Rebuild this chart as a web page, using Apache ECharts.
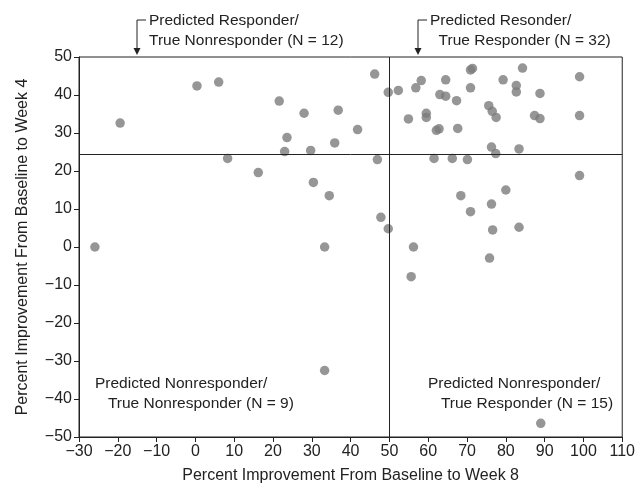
<!DOCTYPE html>
<html>
<head>
<meta charset="utf-8">
<script src="https://cdn.jsdelivr.net/npm/echarts@6/dist/echarts.min.js"></script>
<style>
  html, body { margin: 0; padding: 0; background: #fff; }
  #chart { width: 638px; height: 489px; }
</style>
</head>
<body>
<div id="chart"></div>
<script>
// week 8 improvement (x) and week 4 improvement (y)
const week8 = [
  0.4, 6.0, -19.4, 21.6, 28.0, 36.8, 41.8, 23.6, 23.0, 29.7, 35.9, 46.2,
  49.7, 52.3, 56.8, 58.2, 64.5, 70.9, 70.9, 71.4, 63.0, 64.5, 67.3, 84.3,
  79.3, 82.7, 82.7, 88.8, 99.0, 99.0, 87.4, 88.8, 75.6, 76.5, 77.5, 54.9,
  59.5, 59.5, 62.1, 62.8, 67.6, 76.3, 77.4, 83.4,
  8.3, 16.2, 30.4, 34.5, 33.3, -25.9, 33.3, 46.9, 47.8,
  61.5, 66.2, 70.1, 99.0, 80.0, 68.4, 76.3, 70.9, 49.7, 76.6, 83.4, 56.2,
  75.8, 55.6, 89.0
]
const week4 = [
  42.4, 43.4, 32.6, 38.4, 35.2, 36.0, 30.9, 28.8, 25.1, 25.4, 27.4, 45.5,
  40.7, 41.2, 41.9, 43.8, 44.0, 41.9, 46.6, 47.0, 40.1, 39.7, 38.5, 47.1,
  44.0, 42.5, 40.8, 40.4, 44.8, 34.6, 34.6, 33.8, 37.2, 35.7, 34.1, 33.7,
  35.2, 34.1, 30.7, 31.1, 31.2, 26.3, 24.6, 25.8,
  23.3, 19.6, 17.0, 13.5, 0, 0, -32.5, 23.0, 7.8,
  23.3, 23.3, 23.0, 18.8, 15.0, 13.5, 11.3, 9.3, 4.8, 4.5, 5.2, 0,
  -2.9, -7.8, -46.4
]
const cutX = 50
const cutY = 24.4

const minus = (v) => String(v).replace('-', '\u2212')
const font = 'Liberation Sans, Arial, sans-serif'
const ink = '#222222'

const points = week8.map((x, i) => [x, week4[i]])

const chart = echarts.init(document.getElementById('chart'))

const label = (left, top, lines) => ({
  type: 'text',
  left: left,
  top: top,
  style: {
    text: lines,
    font: '15.5px ' + font,
    fill: ink,
    lineHeight: 20,
  },
})

const arrow = (x, y0, y1) => [
  {
    type: 'polyline',
    shape: { points: [[x + 9, y0], [x, y0], [x, y1 - 6]] },
    style: { stroke: ink, lineWidth: 1, fill: null },
  },
  {
    type: 'polygon',
    shape: { points: [[x - 3.5, y1 - 7], [x + 3.5, y1 - 7], [x, y1]] },
    style: { fill: ink },
  },
]

const option = {
  animation: false,
  grid: {
    left: 79,
    right: 15,
    top: 57,
    bottom: 52,
    show: true,
    borderColor: ink,
    borderWidth: 1,
  },
  xAxis: {
    type: 'value',
    min: -30,
    max: 110,
    interval: 10,
    name: 'Percent Improvement From Baseline to Week 8',
    nameLocation: 'middle',
    nameGap: 31,
    nameTextStyle: { fontFamily: font, fontSize: 16, color: ink },
    splitLine: { show: false },
    axisLine: { onZero: false, lineStyle: { color: ink } },
    axisTick: { show: true, length: 5, lineStyle: { color: ink } },
    axisLabel: {
      fontFamily: font,
      fontSize: 16,
      color: ink,
      margin: 7,
      formatter: minus,
    },
  },
  yAxis: {
    type: 'value',
    min: -50,
    max: 50,
    interval: 10,
    name: 'Percent Improvement From Baseline to Week 4',
    nameLocation: 'middle',
    nameGap: 48,
    nameTextStyle: { fontFamily: font, fontSize: 16, color: ink },
    splitLine: { show: false },
    axisLine: { onZero: false, lineStyle: { color: ink } },
    axisTick: { show: true, length: 5, lineStyle: { color: ink } },
    axisLabel: {
      fontFamily: font,
      fontSize: 16,
      color: ink,
      margin: 7,
      formatter: minus,
    },
  },
  series: [
    {
      type: 'scatter',
      data: points,
      symbolSize: 9.5,
      itemStyle: { color: '#7c7c7c' },
      markLine: {
        silent: true,
        symbol: 'none',
        label: { show: false },
        lineStyle: { color: ink, width: 1, type: 'solid' },
        data: [{ xAxis: cutX }, { yAxis: cutY }],
      },
    },
  ],
  graphic: [
    label(149, 11, 'Predicted Responder/\nTrue Nonresponder (N = 12)'),
    label(430, 11, 'Predicted Resonder/\n  True Responder (N = 32)'),
    label(95, 374, 'Predicted Nonresponder/\n   True Nonresponder (N = 9)'),
    label(428, 374, 'Predicted Nonresponder/\n   True Responder (N = 15)'),
    ...arrow(137, 20, 55),
    ...arrow(418, 20, 55),
  ],
}

chart.setOption(option)
</script>
</body>
</html>
